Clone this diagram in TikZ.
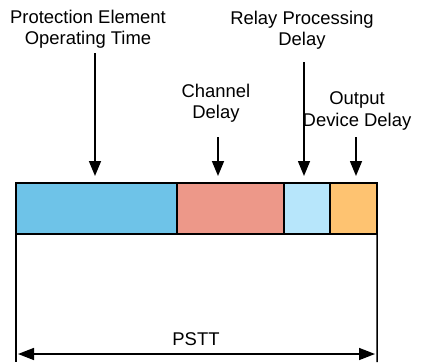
\documentclass[tikz,border=0pt]{standalone}
\usepackage{fontspec}
\setmainfont{Liberation Sans}
\usetikzlibrary{arrows.meta}
\definecolor{protblue}{RGB}{110,195,232}
\definecolor{chansalmon}{RGB}{237,152,137}
\definecolor{relaylight}{RGB}{183,230,251}
\definecolor{outorange}{RGB}{254,195,113}
\tikzset{
  seg/.style={draw, line width=2bp, rectangle, inner sep=0pt, outer sep=0pt, minimum height=51bp, anchor=north west},
  lbl/.style={align=center, inner sep=0pt, font=\fontsize{18.5}{21.5}\selectfont},
  pointer/.style={line width=1.5bp, -{Triangle[width=12bp,length=15bp]}},
  dimline/.style={line width=1.5bp},
}
\begin{document}
\begin{tikzpicture}[x=1bp, y=-1bp]
  \useasboundingbox (0,0) rectangle (425,364);
  % bar segments
  \node[seg, fill=protblue, minimum width=161bp] (s1) at (16,183) {};
  \node[seg, fill=chansalmon, minimum width=107bp] (s2) at (s1.north east) {};
  \node[seg, fill=relaylight, minimum width=46bp] (s3) at (s2.north east) {};
  \node[seg, fill=outorange, minimum width=47bp] (s4) at (s3.north east) {};
  % labels
  \node[lbl] (prot) at (88,29) {Protection Element\\Operating Time};
  \node[lbl] (chan) at (216,103) {Channel\\Delay};
  \node[lbl] (relay) at (302,30) {Relay Processing\\Delay};
  \node[lbl] (outdev) at (357,111) {Output\\Device Delay};
  % arrow tails
  \coordinate (t1) at (95,53);
  \coordinate (t2) at (218,137);
  \coordinate (t3) at (304,62);
  \coordinate (t4) at (356,137);
  \draw[pointer, shorten >=7bp] (t1) -- (s1.north -| t1);
  \draw[pointer, shorten >=7bp] (t2) -- (s2.north -| t2);
  \draw[pointer, shorten >=7bp] (t3) -- (s3.north -| t3);
  \draw[pointer, shorten >=7bp] (t4) -- (s4.north -| t4);
  % dimension
  \coordinate (d1) at (16,362);
  \coordinate (d2) at (377,362);
  \draw[dimline] (s1.south west) -- (d1);
  \draw[dimline] (s4.south east) -- (d2);
  \coordinate (p1) at (18,354);
  \coordinate (p2) at (375,354);
  \draw[dimline, {Triangle[width=12bp,length=16bp]}-{Triangle[width=12bp,length=16bp]}] (p1) -- (p2);
  \node[lbl] (pstt) at (196,339) {PSTT};
\end{tikzpicture}
\end{document}
